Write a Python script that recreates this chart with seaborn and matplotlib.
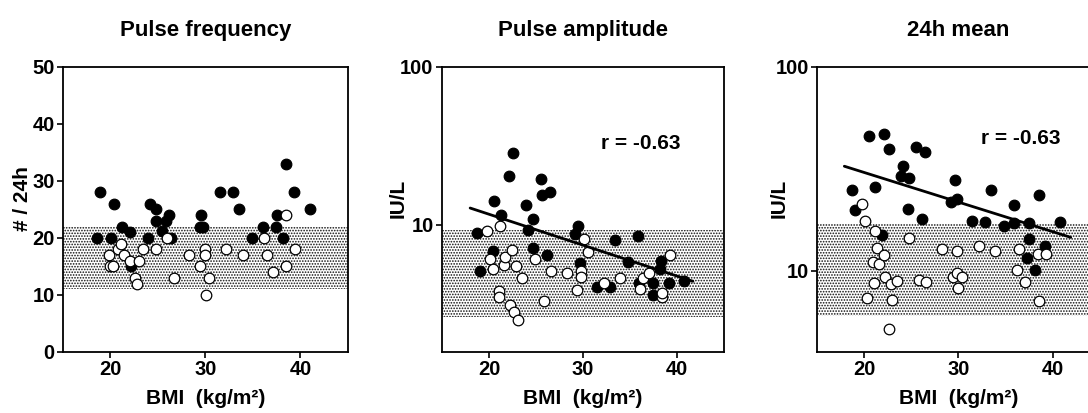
import pandas as pd
import seaborn as sns
import matplotlib.pyplot as plt
from matplotlib.ticker import FixedLocator, NullLocator, FixedFormatter

# ---- Pulse frequency (# / 24h) ----
freq_filled_bmi = [18.9, 18.6, 20.4, 20.1, 21.2, 22.1, 22.2, 23.9, 24.2, 24.8, 24.8, 25.4, 25.8, 26.2, 26.4,
                   29.5, 29.4, 29.7, 31.5, 32.9, 33.5, 34.9, 36.1, 37.5, 37.4, 38.2, 38.5, 39.3, 41.0]
freq_filled_val = [28, 20, 26, 20, 22, 21, 15, 20, 26, 25, 23, 21.3, 23, 24, 20,
                   24, 22, 22, 28, 28, 25, 20, 22, 24, 22, 20, 33, 28, 25]
freq_open_bmi = [19.8, 20.0, 20.3, 20.8, 21.1, 21.4, 22.1, 23.0, 23.4, 22.6, 22.8, 24.8, 25.9, 26.7,
                 28.3, 29.4, 29.9, 29.9, 30.4, 30.1, 32.2, 34.0, 36.2, 36.5, 37.1, 38.5, 38.5, 39.4]
freq_open_val = [17, 15, 15, 18, 19, 17, 16, 16, 18, 13, 12, 18, 20, 13,
                 17, 15, 18, 17, 13, 10, 18, 17, 20, 17, 14, 24, 15, 18]
freq_band = (11, 22)

# ---- Pulse amplitude (IU/L) ----
amp_filled_bmi = [18.7, 19.0, 20.5, 20.4, 21.3, 22.1, 22.6, 23.9, 24.2, 24.7, 24.7, 25.5, 25.6, 26.5, 26.2,
                  29.2, 29.5, 29.7, 31.5, 32.9, 33.4, 34.8, 35.9, 36.0, 37.4, 37.5, 38.3, 38.2, 39.2, 40.8]
amp_filled_val = [8.9, 5.1, 14.1, 6.8, 11.5, 20.3, 28.7, 13.4, 9.3, 10.9, 7.2, 19.5, 15.4, 16.2, 6.5,
                  8.8, 9.9, 5.75, 4.06, 4.06, 8.0, 5.8, 8.5, 4.3, 4.3, 3.6, 5.9, 5.3, 4.3, 4.4]
amp_open_bmi = [19.8, 21.2, 20.1, 20.4, 21.6, 21.7, 22.4, 22.9, 23.5, 21.1, 21.1, 22.2, 22.7, 23.1, 24.9,
                25.9, 26.6, 28.3, 29.4, 29.8, 29.8, 30.1, 30.5, 32.2, 33.9, 36.1, 36.4, 37.0, 38.4, 38.4, 39.3]
amp_open_val = [9.2, 9.9, 6.1, 5.3, 5.6, 6.3, 6.9, 5.5, 4.6, 3.8, 3.5, 3.1, 2.8, 2.5, 6.1,
                3.3, 5.1, 5.0, 3.9, 5.1, 4.7, 8.2, 6.7, 4.3, 4.6, 3.95, 4.6, 5.0, 3.5, 3.7, 6.5]
amp_band = (2.6, 9.3)
amp_line_bmi = [18.0, 41.7]
amp_line_val = [12.8, 4.4]

# ---- 24h mean (IU/L) ----
mean_filled_bmi = [20.5, 22.1, 22.6, 18.7, 19.0, 21.1, 21.9, 24.1, 23.9, 24.8, 24.7, 25.5, 26.4, 26.1,
                   29.6, 29.2, 29.8, 31.4, 32.8, 33.5, 34.8, 35.9, 35.9, 37.5, 37.5, 37.3, 38.1, 38.5, 39.2, 40.8]
mean_filled_val = [45.8, 47, 39.6, 24.9, 19.9, 25.7, 15.0, 32.6, 29.3, 28.6, 20.0, 40.7, 38.5, 18.0,
                   28.0, 21.7, 22.5, 17.6, 17.3, 25.0, 16.6, 17.1, 21.1, 17.1, 14.4, 11.5, 10.1, 23.6, 13.2, 17.3]
mean_open_bmi = [19.8, 20.1, 21.1, 21.4, 20.9, 21.6, 22.1, 22.2, 22.8, 23.5, 21.0, 20.3, 23.0, 22.6, 24.8,
                 25.8, 26.6, 28.3, 29.8, 29.4, 29.8, 30.4, 30.0, 32.2, 33.9, 36.4, 36.2, 37.0, 38.4, 39.3, 38.5]
mean_open_val = [21.3, 17.5, 15.7, 12.9, 11.1, 10.8, 11.9, 9.3, 8.6, 8.9, 8.7, 7.4, 7.2, 5.2, 14.5,
                 9.0, 8.8, 12.8, 12.5, 9.3, 9.8, 9.3, 8.2, 13.2, 12.5, 12.8, 10.1, 8.8, 12.1, 12.1, 7.1]
mean_band = (6, 17)
mean_line_bmi = [17.9, 41.9]
mean_line_val = [32.6, 14.6]

r_text = "r = -0.63"

sns.set_style("ticks")
plt.rcParams["font.family"] = ["Liberation Sans", "DejaVu Sans"]
plt.rcParams["font.weight"] = "bold"
plt.rcParams["hatch.linewidth"] = 0.8
for key in ["text.color", "axes.labelcolor", "xtick.color", "ytick.color", "axes.edgecolor"]:
    plt.rcParams[key] = "black"


def make_df(fb, fv, ob, ov):
    return pd.concat([
        pd.DataFrame({"bmi": fb, "val": fv, "grp": "filled"}),
        pd.DataFrame({"bmi": ob, "val": ov, "grp": "open"}),
    ], ignore_index=True)


panels = [
    dict(title="Pulse frequency", ylabel="# / 24h", log=False, ylim=(0, 50), band=freq_band,
         df=make_df(freq_filled_bmi, freq_filled_val, freq_open_bmi, freq_open_val),
         line=None, rpos=None, pos=[0.0579, 0.1477, 0.2619, 0.6901], ylab_x=-0.108),
    dict(title="Pulse amplitude", ylabel="IU/L", log=True, ylim=(1.57, 100), band=amp_band,
         df=make_df(amp_filled_bmi, amp_filled_val, amp_open_bmi, amp_open_val),
         line=(amp_line_bmi, amp_line_val), rpos=(31.9, 33), pos=[0.4062, 0.1477, 0.2592, 0.6901],
         ylab_x=-0.12),
    dict(title="24h mean", ylabel="IU/L", log=True, ylim=(4, 100), band=mean_band,
         df=make_df(mean_filled_bmi, mean_filled_val, mean_open_bmi, mean_open_val),
         line=(mean_line_bmi, mean_line_val), rpos=(32.4, 44.7), pos=[0.7509, 0.1477, 0.2601, 0.6901],
         ylab_x=-0.10),
]

fig = plt.figure(figsize=(10.88, 4.13), dpi=100)

for p in panels:
    ax = fig.add_axes(p["pos"])
    if p["log"]:
        ax.set_yscale("log")
    ax.axhspan(p["band"][0], p["band"][1], facecolor="white", edgecolor="#111111",
               hatch="......", linewidth=0, zorder=0)
    df = p["df"]
    # filled points first, open circles drawn on top
    for grp, fc in [("filled", "black"), ("open", "white")]:
        sub = df[df["grp"] == grp]
        sns.scatterplot(data=sub, x="bmi", y="val", ax=ax, color=fc, edgecolor="black",
                        linewidth=0.9, s=58, legend=False, zorder=3)
    if p["line"] is not None:
        ldf = pd.DataFrame({"bmi": p["line"][0], "val": p["line"][1]})
        sns.lineplot(data=ldf, x="bmi", y="val", ax=ax, color="black", linewidth=2.0, zorder=4)
        ax.text(p["rpos"][0], p["rpos"][1], r_text, fontsize=15, fontweight="bold",
                ha="left", va="center")
    ax.set_xlim(15, 45)
    ax.set_ylim(*p["ylim"])
    ax.set_xticks([20, 30, 40])
    if p["log"]:
        ax.yaxis.set_major_locator(FixedLocator([10, 100]))
        ax.yaxis.set_major_formatter(FixedFormatter(["10", "100"]))
        ax.yaxis.set_minor_locator(NullLocator())
    else:
        ax.set_yticks([0, 10, 20, 30, 40, 50])
    ax.tick_params(axis="both", labelsize=14.5, length=4, width=1.2, direction="out", pad=2)
    for lab in ax.get_xticklabels() + ax.get_yticklabels():
        lab.set_fontweight("bold")
    for sp in ax.spines.values():
        sp.set_visible(True)
        sp.set_linewidth(1.3)
        sp.set_color("black")
    ax.set_title(p["title"], fontsize=16, fontweight="bold", pad=22)
    ax.set_xlabel("BMI  (kg/m²)", fontsize=15, fontweight="bold", labelpad=7)
    ax.set_ylabel(p["ylabel"], fontsize=15, fontweight="bold")
    ax.yaxis.set_label_coords(p["ylab_x"], 0.54)

fig.savefig("out.png", dpi=100)
